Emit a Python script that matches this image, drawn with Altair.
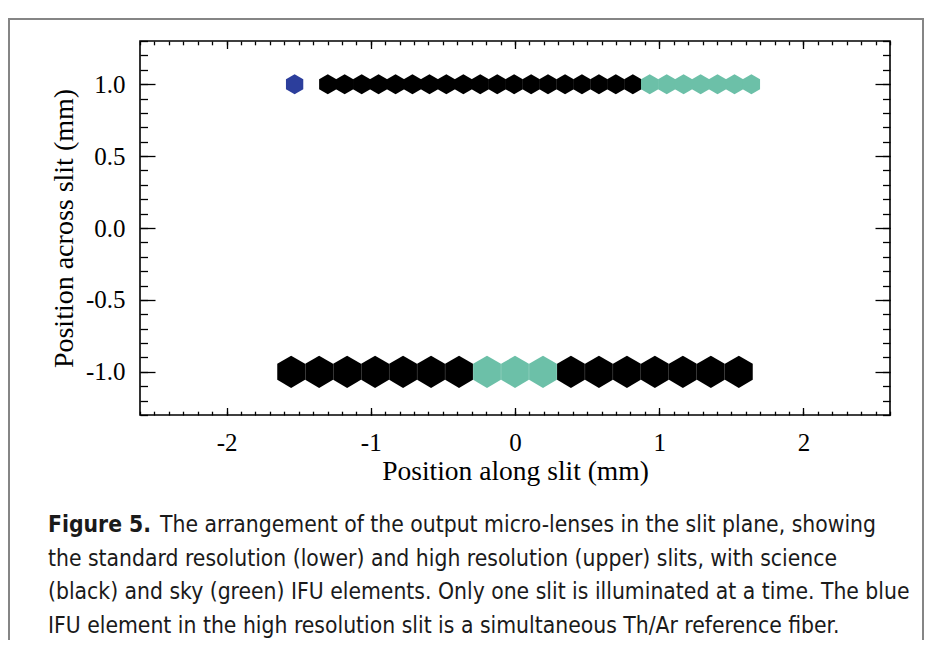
import altair as alt
import pandas as pd

# ---------------- data ----------------
# High resolution (upper) slit: Th/Ar reference fiber, science and sky elements
upper_x = [-1.528,
           -1.298, -1.181, -1.063, -0.946, -0.828, -0.711, -0.593, -0.476, -0.358,
           -0.241, -0.123, -0.006, 0.112, 0.229, 0.347, 0.464, 0.582, 0.699, 0.817,
           0.934, 1.052, 1.169, 1.287, 1.404, 1.522, 1.639]
upper_kind = (["Th/Ar"] + ["science"] * 19 + ["sky"] * 7)
upper_y = [1.0] * len(upper_x)

# Standard resolution (lower) slit
lower_x = [-1.552, -1.358, -1.164, -0.970, -0.776, -0.582, -0.388,
           -0.194, 0.000, 0.194,
           0.388, 0.582, 0.776, 0.970, 1.164, 1.358, 1.552]
lower_kind = ["science"] * 7 + ["sky"] * 3 + ["science"] * 7
lower_y = [-1.0] * len(lower_x)

kinds = ["science", "sky", "Th/Ar"]
kind_colors = ["#000000", "#6cc0a8", "#2c3e9c"]

x_major = [-2, -1, 0, 1, 2]
x_minor = [-2.6, -2.5, -2.4, -2.3, -2.2, -2.1, -2.0, -1.9, -1.8, -1.7, -1.6, -1.5,
           -1.4, -1.3, -1.2, -1.1, -1.0, -0.9, -0.8, -0.7, -0.6, -0.5, -0.4, -0.3,
           -0.2, -0.1, 0.0, 0.1, 0.2, 0.3, 0.4, 0.5, 0.6, 0.7, 0.8, 0.9, 1.0, 1.1,
           1.2, 1.3, 1.4, 1.5, 1.6, 1.7, 1.8, 1.9, 2.0, 2.1, 2.2, 2.3, 2.4, 2.5, 2.6]
y_major = [-1.0, -0.5, 0.0, 0.5, 1.0]
y_minor = [-1.3, -1.2, -1.1, -1.0, -0.9, -0.8, -0.7, -0.6, -0.5, -0.4, -0.3, -0.2,
           -0.1, 0.0, 0.1, 0.2, 0.3, 0.4, 0.5, 0.6, 0.7, 0.8, 0.9, 1.0, 1.1, 1.2, 1.3]

x_title = "Position along slit (mm)"
y_title = "Position across slit (mm)"
caption_bold = "Figure 5."
caption_line1 = "The arrangement of the output micro-lenses in the slit plane, showing"
caption_rest = [
    "the standard resolution (lower) and high resolution (upper) slits, with science",
    "(black) and sky (green) IFU elements. Only one slit is illuminated at a time. The blue",
    "IFU element in the high resolution slit is a simultaneous Th/Ar reference fiber.",
]

upper_df = pd.DataFrame({"x": upper_x, "y": upper_y, "kind": upper_kind})
lower_df = pd.DataFrame({"x": lower_x, "y": lower_y, "kind": lower_kind})

# ---------------- layout / style ----------------
W, H = 750, 374
SERIF = "Liberation Serif"
SANS = "Liberation Sans Narrow, DejaVu Sans Condensed, Roboto"
HEX = "M0,-1L0.866,-0.5L0.866,0.5L0,1L-0.866,0.5L-0.866,-0.5Z"

xs = alt.Scale(domain=[-2.6, 2.6], nice=False, zero=False)
ys = alt.Scale(domain=[-1.3, 1.3], nice=False, zero=False)
color = alt.Color("kind:N", scale=alt.Scale(domain=kinds, range=kind_colors), legend=None)

x_lab = "datum.value < 0 ? '-' + format(-datum.value, 'd') : format(datum.value, 'd')"
y_lab = "datum.value < 0 ? '-' + format(-datum.value, '.1f') : format(datum.value, '.1f')"

x_label_axis = alt.Axis(orient="bottom", values=x_major, ticks=False, domain=False,
                        grid=False, labelFont=SERIF, labelFontSize=25, labelPadding=15,
                        labelColor="black", labelExpr=x_lab,
                        titleFont=SERIF, titleFontSize=27.5, titleFontWeight="normal",
                        titleColor="black", titleBaseline="alphabetic", titleY=64)
y_label_axis = alt.Axis(orient="left", values=y_major, ticks=False, domain=False,
                        grid=False, labelFont=SERIF, labelFontSize=25, labelPadding=15,
                        labelColor="black", labelExpr=y_lab,
                        titleFont=SERIF, titleFontSize=28, titleFontWeight="normal",
                        titleColor="black", titleBaseline="alphabetic", titleX=-68)

upper = alt.Chart(upper_df).mark_point(shape=HEX, filled=True, size=400, opacity=1,
                                       strokeWidth=0).encode(
    x=alt.X("x:Q", scale=xs, axis=x_label_axis, title=x_title),
    y=alt.Y("y:Q", scale=ys, axis=y_label_axis, title=y_title),
    color=color,
)

lower = alt.Chart(lower_df).mark_point(shape=HEX, filled=True, size=1030, opacity=1,
                                       strokeWidth=0).encode(
    x=alt.X("x:Q", scale=xs, axis=None),
    y=alt.Y("y:Q", scale=ys, axis=None),
    color=color,
)


def tick_layer(x_orient, x_vals, x_len, y_orient, y_vals, y_len):
    return alt.Chart(lower_df).mark_point(opacity=0).encode(
        x=alt.X("x:Q", scale=xs, title=None,
                axis=alt.Axis(orient=x_orient, offset=-H, values=x_vals, tickSize=x_len,
                              labels=False, domain=False, grid=False,
                              tickColor="black", tickWidth=1.3)),
        y=alt.Y("y:Q", scale=ys, title=None,
                axis=alt.Axis(orient=y_orient, offset=-W, values=y_vals, tickSize=y_len,
                              labels=False, domain=False, grid=False,
                              tickColor="black", tickWidth=1.3)),
    )


ticks = [
    tick_layer("top", x_major, 7.5, "right", y_major, 15),      # bottom / left, inward
    tick_layer("bottom", x_major, 7.5, "left", y_major, 15),    # top / right, inward
    tick_layer("top", x_minor, 3.8, "right", y_minor, 7.5),
    tick_layer("bottom", x_minor, 3.8, "left", y_minor, 7.5),
]

one = alt.Data(values=[{}])

border = alt.Chart(one).mark_rect(fillOpacity=0, stroke="#858585", strokeWidth=2).encode(
    x=alt.value(-131), x2=alt.value(783), y=alt.value(-22), y2=alt.value(700)
)

cap_bold = alt.Chart(one).mark_text(
    text=caption_bold, font=SANS, fontSize=22.7, fontWeight="bold", align="left",
    baseline="alphabetic", color="#1a1a1a"
).encode(x=alt.value(-92), y=alt.value(491))

cap_l1 = alt.Chart(one).mark_text(
    text=caption_line1, font=SANS, fontSize=22.7, align="left",
    baseline="alphabetic", color="#1a1a1a"
).encode(x=alt.value(20), y=alt.value(491))

cap_rest = alt.Chart(one).mark_text(
    text=caption_rest, font=SANS, fontSize=22.7, align="left", lineHeight=33.5,
    baseline="alphabetic", color="#1a1a1a"
).encode(x=alt.value(-92), y=alt.value(524.5))

chart = alt.layer(
    border, lower, upper, *ticks, cap_bold, cap_l1, cap_rest
).resolve_axis(
    x="independent", y="independent"
).properties(
    width=W, height=H,
    autosize=alt.AutoSizeParams(type="none"),
    padding={"left": 132, "top": 33, "right": 35, "bottom": 225},
    background="white",
).configure_view(
    stroke="black", strokeWidth=1.6
)

chart.save("out.html", embed_options={"renderer": "svg", "actions": False})
